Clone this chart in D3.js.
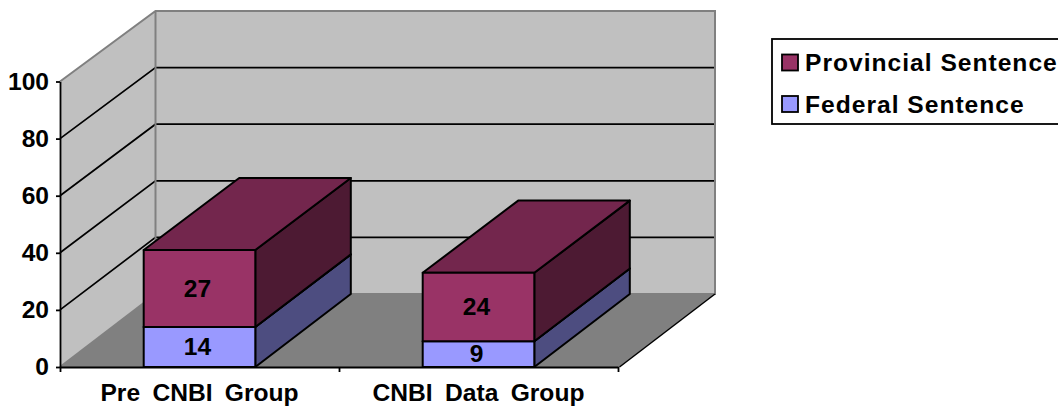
<!DOCTYPE html>
<html>
<head>
<meta charset="utf-8">
<script src="https://cdnjs.cloudflare.com/ajax/libs/d3/7.8.5/d3.min.js"></script>
<style>
html, body { margin: 0; padding: 0; background: #fff; }
svg { display: block; }
text { font-family: "Liberation Sans", Arial, sans-serif; font-weight: bold; fill: #000; }
</style>
</head>
<body>
<svg id="chart" width="1058" height="408"></svg>
<script>
// Sentence type by study group
const categories = ["Pre CNBI Group", "CNBI Data Group"];
const federalValues = [14, 9];
const provincialValues = [27, 24];
const yTicks = [0, 20, 40, 60, 80, 100];
const legendLabels = ["Provincial Sentence", "Federal Sentence"];

const svg = d3.select("#chart");
const labelSize = 24.6;

// Front plane of the box and its receding back plane
const xFront = d3.scaleBand().domain(categories).range([60, 618])
  .paddingInner(0.6).paddingOuter(0.3);
const yFront = d3.scaleLinear().domain([0, 100]).range([367, 81.5]);
const yBack = d3.scaleLinear().domain([0, 100]).range([294, 11]);
const depthX = 95.5;
const wallRight = 715;

const poly = pts => pts.map(p => p.join(",")).join(" ");

// Walls and floor
svg.append("polygon")
  .attr("points", poly([[60, yFront(0)], [60, yFront(100)], [60 + depthX, yBack(100)], [60 + depthX, yBack(0)]]))
  .attr("fill", "#c0c0c0");
svg.append("polygon")
  .attr("points", poly([[60 + depthX, yBack(100)], [wallRight, yBack(100)], [wallRight, yBack(0)], [60 + depthX, yBack(0)]]))
  .attr("fill", "#c0c0c0");
svg.append("polygon")
  .attr("points", poly([[60, yFront(0)], [60 + depthX, yBack(0)], [wallRight, yBack(0)], [wallRight - depthX, yFront(0)]]))
  .attr("fill", "#808080");

// Gridlines across the side wall and the back wall
const grid = svg.append("g").attr("stroke", "#000").attr("stroke-width", 1.7).attr("fill", "none");
yTicks.filter(t => t > 0 && t < 100).forEach(t => {
  grid.append("polyline")
    .attr("points", poly([[60, yFront(t)], [60 + depthX, yBack(t)], [wallRight, yBack(t)]]));
});

// Wall outlines
svg.append("polyline")
  .attr("points", poly([[60, yFront(100)], [60 + depthX, yBack(100)], [wallRight, yBack(100)], [wallRight, yBack(0)], [60 + depthX, yBack(0)], [60 + depthX, yBack(100)]]))
  .attr("fill", "none").attr("stroke", "#808080").attr("stroke-width", 2);
svg.append("line")
  .attr("x1", 60).attr("y1", yFront(0)).attr("x2", 60 + depthX).attr("y2", yBack(0))
  .attr("stroke", "#808080").attr("stroke-width", 2);
svg.append("line")
  .attr("x1", wallRight).attr("y1", yBack(0)).attr("x2", wallRight - depthX).attr("y2", yFront(0))
  .attr("stroke", "#000").attr("stroke-width", 1.5);

// Stacked boxes: federal at the bottom, provincial on top
const palette = {
  federal: { front: "#9999ff", side: "#4d4d80", top: "#6f6fb8" },
  provincial: { front: "#993366", side: "#4d1a33", top: "#73264d" }
};
const stacks = categories.map((c, i) => ({
  c,
  parts: [
    { key: "federal", v0: 0, v1: federalValues[i], value: federalValues[i] },
    { key: "provincial", v0: federalValues[i], v1: federalValues[i] + provincialValues[i], value: provincialValues[i] }
  ]
}));

const boxStyle = sel => sel.attr("stroke", "#000").attr("stroke-width", 2).attr("stroke-linejoin", "round");
stacks.forEach(stack => {
  const x0 = xFront(stack.c), x1 = x0 + xFront.bandwidth();
  const g = svg.append("g");
  stack.parts.forEach(p => {
    const col = palette[p.key];
    g.append("polygon").call(boxStyle).attr("fill", col.side)
      .attr("points", poly([[x1, yFront(p.v0)], [x1, yFront(p.v1)], [x1 + depthX, yBack(p.v1)], [x1 + depthX, yBack(p.v0)]]));
    g.append("polygon").call(boxStyle).attr("fill", col.top)
      .attr("points", poly([[x0, yFront(p.v1)], [x0 + depthX, yBack(p.v1)], [x1 + depthX, yBack(p.v1)], [x1, yFront(p.v1)]]));
    g.append("polygon").call(boxStyle).attr("fill", col.front)
      .attr("points", poly([[x0, yFront(p.v0)], [x0, yFront(p.v1)], [x1, yFront(p.v1)], [x1, yFront(p.v0)]]));
  });
  stack.parts.forEach(p => {
    g.append("text")
      .attr("x", (x0 + x1) / 2 - 2)
      .attr("y", (yFront(p.v0) + yFront(p.v1)) / 2)
      .attr("dy", "0.33em")
      .attr("text-anchor", "middle")
      .attr("font-size", labelSize)
      .text(p.value);
  });
});

// Value axis
const yAxis = svg.append("g").attr("transform", "translate(60,0)")
  .call(d3.axisLeft(yFront).tickValues(yTicks).tickSize(4).tickPadding(7).tickSizeOuter(0));
yAxis.selectAll("text").attr("font-size", labelSize).style("font-family", "'Liberation Sans', Arial, sans-serif").style("font-weight", "bold");
yAxis.selectAll("path, line").attr("stroke", "#000").attr("stroke-width", 1.8);

// Category axis: ticks sit on the band boundaries, labels at band centres
const xAxisLabels = svg.append("g").attr("transform", `translate(0,${yFront(0)})`)
  .call(d3.axisBottom(xFront).tickSize(0).tickPadding(17));
xAxisLabels.selectAll("text").attr("font-size", labelSize).attr("word-spacing", "5.5px")
  .style("font-family", "'Liberation Sans', Arial, sans-serif").style("font-weight", "bold");
xAxisLabels.selectAll("path").remove();
const boundaries = d3.range(categories.length + 1);
const xBoundary = d3.scaleLinear().domain([0, categories.length]).range(xFront.range());
const xAxisTicks = svg.append("g").attr("transform", `translate(0,${yFront(0)})`)
  .call(d3.axisBottom(xBoundary).tickValues(boundaries).tickSize(5).tickFormat("").tickSizeOuter(0));
xAxisTicks.selectAll("path, line").attr("stroke", "#000").attr("stroke-width", 1.8);

// Legend
const legend = svg.append("g");
legend.append("rect")
  .attr("x", 772).attr("y", 39).attr("width", 300).attr("height", 85)
  .attr("fill", "#fff").attr("stroke", "#000").attr("stroke-width", 1.8);
const legendColors = [palette.provincial.front, palette.federal.front];
legendLabels.forEach((label, i) => {
  const rowY = 62.5 + i * 41.5;
  legend.append("rect")
    .attr("x", 782).attr("y", rowY - 8).attr("width", 16).attr("height", 16)
    .attr("fill", legendColors[i]).attr("stroke", "#000").attr("stroke-width", 1.8);
  legend.append("text")
    .attr("x", 805).attr("y", rowY).attr("dy", "0.36em")
    .attr("font-size", labelSize).attr("letter-spacing", "1px")
    .text(label);
});
</script>
</body>
</html>
